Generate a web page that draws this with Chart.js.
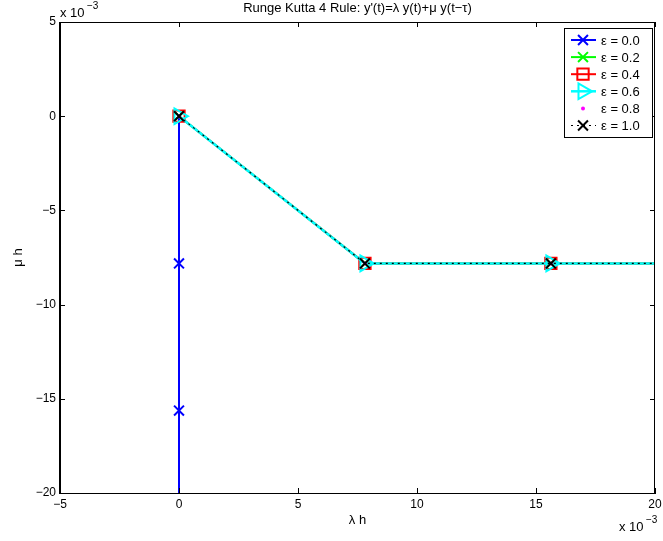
<!DOCTYPE html>
<html>
<head>
<meta charset="utf-8">
<style>
  html, body { margin: 0; padding: 0; background: #fff; }
  #wrap { width: 663px; height: 541px; }
</style>
</head>
<body>
<div id="wrap">
  <canvas id="myChart" width="663" height="541"></canvas>
</div>

<script src="https://cdn.jsdelivr.net/npm/chart.js"></script>
<script>
// values in units of 1e-3
var labels = ['ε = 0.0', 'ε = 0.2', 'ε = 0.4', 'ε = 0.6', 'ε = 0.8', 'ε = 1.0'];
var xEps0 = [0, 0, 0, 0];
var yEps0 = [0, -7.8125, -15.625, -23.4375];
var xPath = [0, 7.8125, 15.625, 23.4375];
var yPath = [0, -7.8125, -7.8125, -7.8125];
var xTicks = [-5, 0, 5, 10, 15, 20];
var yTicks = [-20, -15, -10, -5, 0, 5];

var FONT = '"Liberation Sans", Arial, Helvetica, sans-serif';

function pts(xs, ys) {
    return xs.map(function(x, i) { return { x: x, y: ys[i] }; });
}

// marker/line style per series
var styles = [
    { color: '#0000ff', point: 'crossRot', radius: 7, dash: [], line: 2, showLine: true },
    { color: '#00ff00', point: 'crossRot', radius: 7, dash: [], line: 2, showLine: true },
    { color: '#ff0000', point: 'rect', radius: 8, dash: [], line: 2, showLine: true },
    { color: '#00ffff', point: 'triangle', radius: 9, rot: 90, dash: [], line: 2.5, showLine: true },
    { color: '#ff00ff', point: 'circle', radius: 2, dash: [], line: 1, showLine: false, fill: true },
    { color: '#000000', point: 'crossRot', radius: 7, dash: [2, 4], line: 1.2, showLine: true }
];

var datasets = labels.map(function(lab, i) {
    var s = styles[i];
    return {
        label: lab,
        data: i === 0 ? pts(xEps0, yEps0) : pts(xPath, yPath),
        showLine: s.showLine,
        borderColor: s.color,
        backgroundColor: s.fill ? s.color : 'rgba(0,0,0,0)',
        borderWidth: s.line,
        borderDash: s.dash,
        pointStyle: s.point,
        pointRadius: s.radius,
        pointRotation: s.rot || 0,
        pointBorderWidth: s.fill ? 0 : 2,
        pointBorderColor: s.color,
        pointBackgroundColor: s.fill ? s.color : 'rgba(0,0,0,0)',
        order: labels.length - i,
        tension: 0
    };
});

// box, inward ticks, titles, exponent labels and legend
var decor = {
    id: 'decor',
    afterDraw: function(chart) {
        var ctx = chart.ctx, a = chart.chartArea;
        var xs = chart.scales.x, ys = chart.scales.y;
        ctx.save();
        ctx.strokeStyle = '#000';
        ctx.lineWidth = 1;
        ctx.strokeRect(Math.round(a.left) - 0.5, Math.round(a.top) + 0.5,
            Math.round(a.right - a.left), Math.round(a.bottom - a.top));
        ctx.beginPath();
        xTicks.forEach(function(v) {
            var px = Math.round(xs.getPixelForValue(v)) + 0.5;
            ctx.moveTo(px, a.bottom); ctx.lineTo(px, a.bottom - 5);
            ctx.moveTo(px, a.top); ctx.lineTo(px, a.top + 5);
        });
        yTicks.forEach(function(v) {
            var py = Math.round(ys.getPixelForValue(v)) + 0.5;
            ctx.moveTo(a.left, py); ctx.lineTo(a.left + 5, py);
            ctx.moveTo(a.right, py); ctx.lineTo(a.right - 5, py);
        });
        ctx.stroke();

        ctx.fillStyle = '#000';
        ctx.font = '13px ' + FONT;
        ctx.textAlign = 'center';
        ctx.textBaseline = 'middle';
        ctx.fillText("Runge Kutta 4 Rule: y'(t)=λ y(t)+μ y(t−τ)", (a.left + a.right) / 2, 8);
        ctx.fillText('λ h', (a.left + a.right) / 2, 520);
        ctx.save();
        ctx.translate(18, (a.top + a.bottom) / 2);
        ctx.rotate(-Math.PI / 2);
        ctx.fillText('μ h', 0, 0);
        ctx.restore();

        // exponent labels
        ctx.textAlign = 'left';
        ctx.font = '13px ' + FONT;
        ctx.fillText('x 10', 60, 13);
        ctx.font = '10px ' + FONT;
        ctx.fillText('−3', 87, 6);
        ctx.font = '13px ' + FONT;
        ctx.fillText('x 10', 619, 527);
        ctx.font = '10px ' + FONT;
        ctx.fillText('−3', 646, 520);

        // legend
        var lx = 564, ly = 28, lw = 88, lh = 109;
        ctx.fillStyle = '#fff';
        ctx.fillRect(lx, ly, lw, lh);
        ctx.strokeStyle = '#000';
        ctx.lineWidth = 1;
        ctx.strokeRect(lx + 0.5, ly + 0.5, lw, lh);
        chart.data.datasets.forEach(function(ds, i) {
            var s = styles[i];
            var cy = 40 + i * 17.1;
            ctx.save();
            if (s.showLine) {
                ctx.strokeStyle = s.color;
                ctx.lineWidth = s.line;
                ctx.setLineDash(s.dash);
                ctx.beginPath();
                ctx.moveTo(571, cy); ctx.lineTo(596, cy);
                ctx.stroke();
                ctx.setLineDash([]);
            }
            ctx.strokeStyle = s.color;
            ctx.fillStyle = s.fill ? s.color : 'rgba(0,0,0,0)';
            ctx.lineWidth = s.fill ? 0 : 2;
            Chart.helpers.drawPoint(ctx, {
                pointStyle: s.point,
                radius: s.radius,
                rotation: s.rot || 0,
                borderWidth: s.fill ? 0 : 2
            }, 583, cy);
            ctx.restore();
            ctx.fillStyle = '#000';
            ctx.font = '13px ' + FONT;
            ctx.textAlign = 'left';
            ctx.textBaseline = 'middle';
            ctx.fillText(ds.label, 601, cy + 1);
        });
        ctx.restore();
    }
};

var ctx = document.getElementById('myChart').getContext('2d');
var chart = new Chart(ctx, {
    type: 'scatter',
    data: { datasets: datasets },
    options: {
        responsive: false,
        animation: false,
        events: [],
        layout: { autoPadding: false, padding: { left: 0, right: 8, top: 22, bottom: 0 } },
        scales: {
            x: {
                type: 'linear', min: -5, max: 20,
                afterFit: function(scale) {
                    scale.height = 48;
                    scale.paddingLeft = 0;
                    scale.paddingRight = 0;
                },
                afterBuildTicks: function(scale) {
                    scale.ticks = xTicks.map(function(v) { return { value: v }; });
                },
                grid: { drawOnChartArea: false, drawTicks: false },
                border: { display: true, color: '#000', width: 1 },
                ticks: {
                    padding: 4, color: '#000', font: { family: FONT, size: 12 },
                    callback: function(v) { return String(v).replace('-', '−'); }
                }
            },
            y: {
                type: 'linear', min: -20, max: 5,
                afterFit: function(scale) {
                    scale.width = 60;
                    scale.paddingTop = 0;
                    scale.paddingBottom = 0;
                },
                afterBuildTicks: function(scale) {
                    scale.ticks = yTicks.map(function(v) { return { value: v }; });
                },
                grid: { drawOnChartArea: false, drawTicks: false },
                border: { display: true, color: '#000', width: 1 },
                ticks: {
                    padding: 4, color: '#000', font: { family: FONT, size: 12 },
                    callback: function(v) { return String(v).replace('-', '−'); }
                }
            }
        },
        plugins: {
            legend: { display: false },
            title: { display: false },
            tooltip: { enabled: false }
        }
    },
    plugins: [decor]
});
</script>
</body>
</html>
